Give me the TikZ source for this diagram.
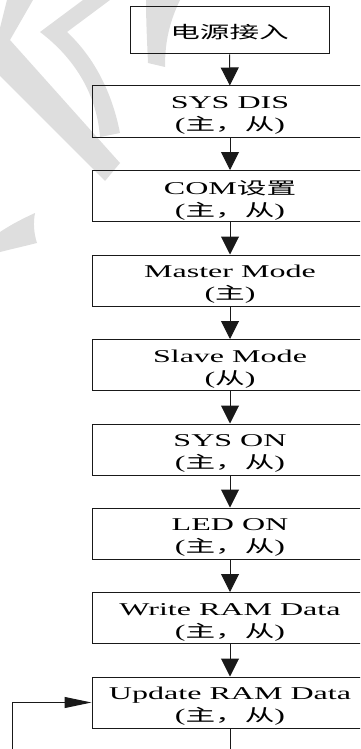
\documentclass[tikz,border=0pt]{standalone}
\usepackage{fontspec}
\setmainfont{Liberation Serif}[FakeStretch=1.78]
\newfontfamily\cjk{Noto Sans CJK SC}[FakeStretch=1.75,Scale=0.94]
\usetikzlibrary{arrows.meta}
\newcommand\zh[1]{{\cjk #1}}
\newcommand\flowbox[3]{\node[box] (#1) at (#2) {};
  \node[txt] (#1t) at ([yshift=-4pt]#1.center) {#3};}
\definecolor{wm}{gray}{0.87}
\definecolor{ln}{gray}{0.1}
\begin{document}
\begin{tikzpicture}[x=1pt,y=-1pt,
  box/.style={draw=ln,line width=1pt,minimum width=276pt,minimum height=51pt,inner sep=0pt},
  txt/.style={inner sep=0pt,align=center,font=\fontsize{18}{22}\selectfont},
  varr/.style={draw=ln,line width=1pt,-{Triangle[length=18pt,width=18pt]}},
  harr/.style={draw=ln,line width=1pt,-{Triangle[length=27pt,width=11pt]}},
  wmark/.style={fill=wm,draw=none}]
\useasboundingbox (0,0) rectangle (360,749);
\clip (0,0) rectangle (360,749);
% watermark
\fill[wmark] (7,0) -- (33,0) -- (10,40) -- (120,163) -- (105,181) -- (0,76) -- (0,28) -- cycle;
\fill[wmark] (83,0) -- (110,0) -- (67,32) .. controls (97,60) and (113,97) .. (120,133)
   -- (100,137) .. controls (97,97) and (77,60) .. (40,32) -- cycle;
\fill[wmark] (146,0) -- (180,0) .. controls (168,25) and (165,45) .. (165,67)
   -- (148,63) .. controls (147,40) and (146,20) .. (146,0) -- cycle;
\fill[wmark] (0,232) .. controls (12,224) and (24,218) .. (35,213)
   .. controls (33,223) and (34,234) .. (37,243) .. controls (25,246) and (12,249) .. (0,252) -- cycle;
% boxes
\node[box,minimum width=199pt,minimum height=47pt] (b1) at (229.5,30.5) {};
\node[txt] (b1t) at ([yshift=-2pt]b1.center) {\zh{电源接入}};
\flowbox{b2}{230,111.5}{SYS DIS\\(\zh{主，从})}
\flowbox{b3}{230,196}{COM\zh{设置}\\(\zh{主，从})}
\flowbox{b4}{230,280.5}{Master Mode\\(\zh{主})}
\flowbox{b5}{230,365}{Slave Mode\\(\zh{从})}
\flowbox{b6}{230,449.5}{SYS ON\\(\zh{主，从})}
\flowbox{b7}{230,533.5}{LED ON\\(\zh{主，从})}
\flowbox{b8}{230,618}{Write RAM Data\\(\zh{主，从})}
\flowbox{b9}{230,702.5}{Update RAM Data\\(\zh{主，从})}
% connectors
\draw[varr] (b1) -- (b2);
\draw[varr] (b2) -- (b3);
\draw[varr] (b3) -- (b4);
\draw[varr] (b4) -- (b5);
\draw[varr] (b5) -- (b6);
\draw[varr] (b6) -- (b7);
\draw[varr] (b7) -- (b8);
\draw[varr] (b8) -- (b9);
\coordinate (lb) at (230,775);
\coordinate (ll) at (12,775);
\draw[harr] (b9.south) -- (lb) -- (ll) |- (b9.west);
\end{tikzpicture}
\end{document}
